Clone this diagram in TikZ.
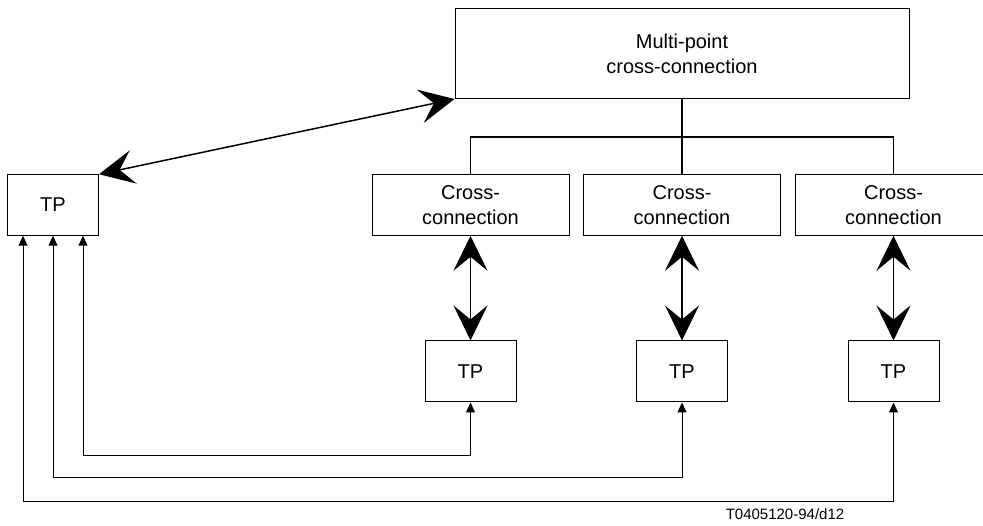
\documentclass[tikz,border=0pt]{standalone}
\usepackage{fontspec}
\setmainfont{Liberation Sans}
\usetikzlibrary{arrows.meta}

\tikzset{
	box/.style={draw, rectangle, line width=1pt, align=center, inner sep=0pt,
		font=\fontsize{20}{25}\selectfont},
	bigtips/.style={{Stealth[length=35pt,width=34pt,inset=14pt]}-{Stealth[length=35pt,width=34pt,inset=14pt]}, line width=1.5pt},
	smalltips/.style={{Triangle[length=10pt,width=9pt]}-{Triangle[length=10pt,width=9pt]}, line width=1pt}
}

\begin{document}
\begin{tikzpicture}[x=1pt, y=-1pt]
		\useasboundingbox (0,0) rectangle (983,526);

		\node[box, minimum width=454pt, minimum height=90pt] (mpc) at (682, 53.5) {Multi-point\\cross-connection};
		\node[box, minimum width=91pt, minimum height=60.5pt] (tpl) at (53, 205) {TP};

		\node[box, minimum width=197pt, minimum height=60.5pt] (cc1) at (470.5, 205) {Cross-\\connection};
		\node[box, minimum width=197pt, minimum height=60.5pt] (cc2) at (682, 205) {Cross-\\connection};
		\node[box, minimum width=197pt, minimum height=60.5pt] (cc3) at (893.5, 205) {Cross-\\connection};

		\node[box, minimum width=91pt, minimum height=61pt] (tp1) at (470.5, 371.5) {TP};
		\node[box, minimum width=91pt, minimum height=61pt] (tp2) at (682, 371.5) {TP};
		\node[box, minimum width=91pt, minimum height=61pt] (tp3) at (893.5, 371.5) {TP};

		\node[font=\fontsize{15}{18}\selectfont] (ref) at (785, 514) {T0405120-94/d12};

		% bus to the cross-connections
		\coordinate (bus) at (682, 137);
		\draw[line width=1.5pt] (cc1.north) |- (bus) -| (cc3.north);
		\draw[line width=1.5pt] (mpc.south) -- (cc2.north);

		% two-way links
		\path
			(tpl.north east) edge[bigtips] (mpc.south west)
			(cc1.south) edge[bigtips] (tp1.north)
			(cc2.south) edge[bigtips] (tp2.north)
			(cc3.south) edge[bigtips] (tp3.north);

		% return paths to the left TP
		\draw[smalltips] (tp1.south) -- ++(0, 53.5) -| ([xshift=30pt]tpl.south);
		\draw[smalltips] (tp2.south) -- ++(0, 75.5) -| (tpl.south);
		\draw[smalltips] (tp3.south) -- ++(0, 99) -| ([xshift=-30pt]tpl.south);
	\end{tikzpicture}
\end{document}
